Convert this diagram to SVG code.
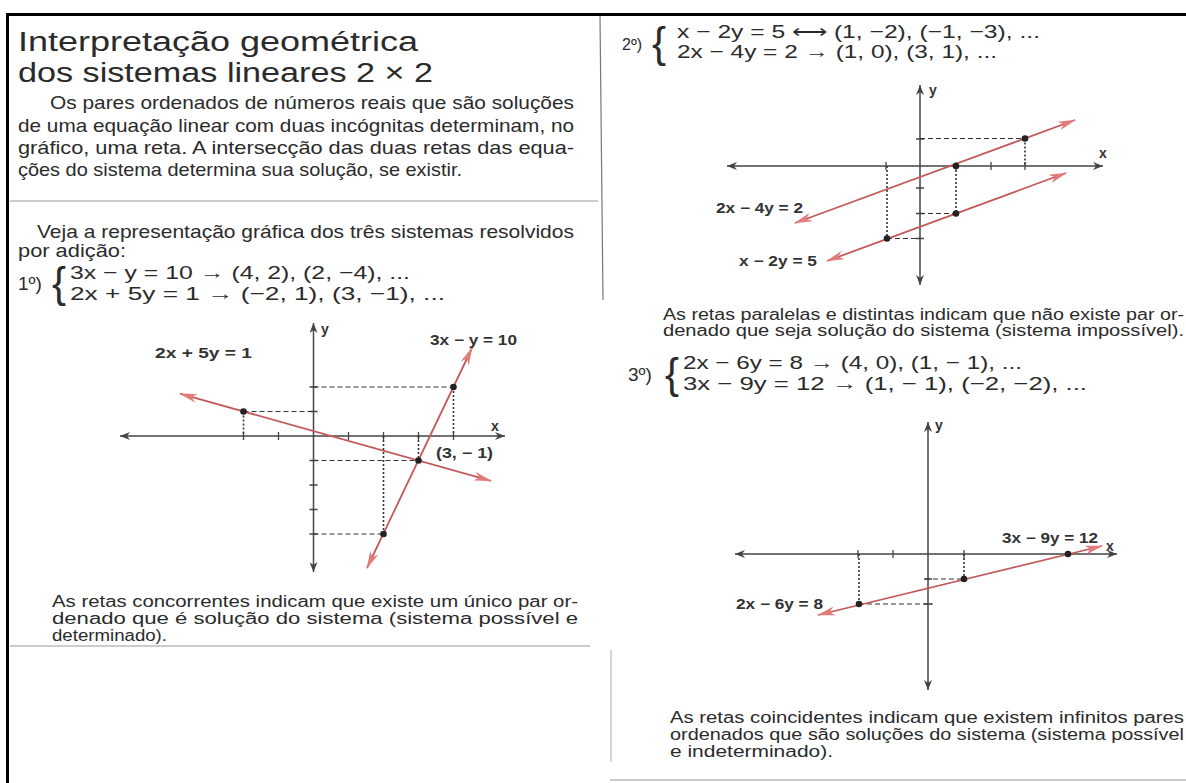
<svg xmlns="http://www.w3.org/2000/svg" width="1186" height="783" viewBox="0 0 1186 783">
<style>
.t{font-family:"Liberation Sans",Arial,sans-serif;fill:#2b2b2b}
.ti{font-size:27px}
.p{font-size:19px}
.q{font-size:16px}
.e{font-size:19px}
.br{font-family:"Liberation Sans",Arial,sans-serif;font-size:42px;fill:#2b2b2b}
.lbl{font-family:"Liberation Sans",Arial,sans-serif;font-weight:bold;font-size:14px;fill:#333}
.ax{stroke:#444;stroke-width:1.5;fill:none}
.tk{stroke:#444;stroke-width:1.3}
.rl{stroke:#c4595a;stroke-width:1.8;fill:none}
.dh{stroke:#333;stroke-width:1;stroke-dasharray:5 3}
.dv{stroke:#333;stroke-width:1.6;stroke-dasharray:2 2}
.pt{fill:#222}
.frame{stroke:#000;stroke-width:3}
.rule{stroke:#999;stroke-width:1.2}
</style>
<defs>
<marker id="ra" viewBox="0 0 18 10" refX="17" refY="5" markerWidth="18" markerHeight="10" markerUnits="userSpaceOnUse" orient="auto-start-reverse"><path d="M0,0.5 L18,5 L0,9.5 L5,5 z" fill="#e27c7b"/></marker>
<marker id="aa" viewBox="0 0 10 8" refX="10" refY="4" markerWidth="10" markerHeight="8" markerUnits="userSpaceOnUse" orient="auto-start-reverse"><path d="M0,0 L10,4 L0,8 L3,4 z" fill="#444"/></marker>
</defs>
<rect width="1186" height="783" fill="#fff"/>

<g id="frame">
<line class="frame" x1="6" y1="14.5" x2="1186" y2="14.5"/>
<line class="frame" x1="7.5" y1="13" x2="7.5" y2="783"/>
<line class="rule" x1="10" y1="201" x2="598" y2="201"/>
<line class="rule" x1="10" y1="646" x2="590" y2="646"/>
<line class="rule" x1="610" y1="780" x2="1186" y2="780"/>
<line stroke="#777" stroke-width="1.2" x1="600" y1="16" x2="603" y2="300"/>
<line stroke="#aaa" stroke-width="1" x1="611" y1="650" x2="611" y2="762"/>
</g>

<g id="intro">
<text class="t ti" x="18" y="51" textLength="400" lengthAdjust="spacingAndGlyphs">Interpretação geométrica</text>
<text class="t ti" x="18" y="82" textLength="415" lengthAdjust="spacingAndGlyphs">dos sistemas lineares 2 × 2</text>
<text class="t p" x="50" y="109" textLength="524" lengthAdjust="spacingAndGlyphs">Os pares ordenados de números reais que são soluções</text>
<text class="t p" x="18" y="132" textLength="556" lengthAdjust="spacingAndGlyphs">de uma equação linear com duas incógnitas determinam, no</text>
<text class="t p" x="18" y="154" textLength="556" lengthAdjust="spacingAndGlyphs">gráfico, uma reta. A intersecção das duas retas das equa-</text>
<text class="t p" x="18" y="176" textLength="444" lengthAdjust="spacingAndGlyphs">ções do sistema determina sua solução, se existir.</text>
<text class="t p" x="37" y="238" textLength="537" lengthAdjust="spacingAndGlyphs">Veja a representação gráfica dos três sistemas resolvidos</text>
<text class="t p" x="18" y="257" textLength="108" lengthAdjust="spacingAndGlyphs">por adição:</text>
</g>

<g id="system1">
<text class="t e" x="18" y="290">1º)</text>
<text class="br" x="52" y="297">{</text>
<text class="t e" x="70" y="279" textLength="340" lengthAdjust="spacingAndGlyphs">3x − y = 10 → (4, 2), (2, −4), ...</text>
<text class="t e" x="70" y="300" textLength="375" lengthAdjust="spacingAndGlyphs">2x + 5y = 1 → (−2, 1), (3, −1), ...</text>
</g>

<g id="graph1">
<line class="ax" x1="120" y1="436" x2="505" y2="436" marker-start="url(#aa)" marker-end="url(#aa)"/>
<line class="ax" x1="313.5" y1="323" x2="313.5" y2="572" marker-start="url(#aa)" marker-end="url(#aa)"/>
<path class="tk" d="M243.5,432v8M278.5,432v8M348.5,432v8M383.5,432v8M418.5,432v8M453.5,432v8M309.5,387h8M309.5,411.5h8M309.5,460.5h8M309.5,485h8M309.5,509.5h8M309.5,534h8"/>
<line class="dh" x1="313.5" y1="387" x2="453.5" y2="387"/>
<line class="dv" x1="453.5" y1="387" x2="453.5" y2="436"/>
<line class="dh" x1="243.5" y1="411.5" x2="313.5" y2="411.5"/>
<line class="dv" x1="243.5" y1="411.5" x2="243.5" y2="436"/>
<line class="dh" x1="313.5" y1="460.5" x2="418.5" y2="460.5"/>
<line class="dv" x1="418.5" y1="436" x2="418.5" y2="460.5"/>
<line class="dh" x1="313.5" y1="534" x2="383.5" y2="534"/>
<line class="dv" x1="383.5" y1="436" x2="383.5" y2="534"/>
<line class="rl" x1="367" y1="568" x2="472" y2="348" marker-start="url(#ra)" marker-end="url(#ra)"/>
<line class="rl" x1="180" y1="393.7" x2="491" y2="480.8" marker-start="url(#ra)" marker-end="url(#ra)"/>
<circle class="pt" cx="453.5" cy="387" r="3.3"/>
<circle class="pt" cx="243.5" cy="411.5" r="3.3"/>
<circle class="pt" cx="418.5" cy="460.5" r="3.3"/>
<circle class="pt" cx="383.5" cy="534" r="3.3"/>
<text class="lbl" x="321" y="334" font-size="15">y</text>
<text class="lbl" x="491" y="431" font-size="15">x</text>
<text class="lbl" x="430" y="345" textLength="87" lengthAdjust="spacingAndGlyphs">3x − y = 10</text>
<text class="lbl" x="155" y="358" textLength="97" lengthAdjust="spacingAndGlyphs">2x + 5y = 1</text>
<text class="lbl" x="436" y="458" textLength="57" lengthAdjust="spacingAndGlyphs">(3, − 1)</text>
</g>

<g id="caption1">
<text class="t q" x="52" y="607" textLength="526" lengthAdjust="spacingAndGlyphs">As retas concorrentes indicam que existe um único par or-</text>
<text class="t q" x="52" y="624" textLength="526" lengthAdjust="spacingAndGlyphs">denado que é solução do sistema (sistema possível e</text>
<text class="t q" x="52" y="641" textLength="115" lengthAdjust="spacingAndGlyphs">determinado).</text>
</g>

<g id="system2">
<text class="t q" x="622" y="50">2º)</text>
<text class="br" x="652" y="57">{</text>
<text class="t e" x="677" y="38" textLength="363" lengthAdjust="spacingAndGlyphs">x − 2y = 5 ⟷ (1, −2), (−1, −3), ...</text>
<text class="t e" x="677" y="58" textLength="320" lengthAdjust="spacingAndGlyphs">2x − 4y = 2 → (1, 0), (3, 1), ...</text>
</g>

<g id="graph2">
<line class="ax" x1="727" y1="166" x2="1103" y2="166" marker-start="url(#aa)" marker-end="url(#aa)"/>
<line class="ax" x1="920" y1="85" x2="920" y2="285" marker-start="url(#aa)" marker-end="url(#aa)"/>
<path class="tk" d="M886,162v8M956,162v8M991,162v8M1025,162v8M916,139h8M916,188h8M916,213.5h8M916,238.5h8"/>
<line class="dh" x1="920" y1="138.5" x2="1025" y2="138.5"/>
<line class="dv" x1="1025" y1="138.5" x2="1025" y2="166"/>
<line class="dv" x1="956" y1="166" x2="956" y2="213.5"/>
<line class="dh" x1="920" y1="213.5" x2="956" y2="213.5"/>
<line class="dv" x1="887" y1="166" x2="887" y2="238.5"/>
<line class="dh" x1="887" y1="238.5" x2="920" y2="238.5"/>
<line class="rl" x1="795" y1="223" x2="1075" y2="120" marker-start="url(#ra)" marker-end="url(#ra)"/>
<line class="rl" x1="827" y1="261" x2="1066" y2="173" marker-start="url(#ra)" marker-end="url(#ra)"/>
<circle class="pt" cx="1025" cy="138.5" r="3.3"/>
<circle class="pt" cx="956" cy="166" r="3.3"/>
<circle class="pt" cx="956" cy="213.5" r="3.3"/>
<circle class="pt" cx="887" cy="238.5" r="3.3"/>
<text class="lbl" x="929" y="95" font-size="15">y</text>
<text class="lbl" x="1099" y="158" font-size="15">x</text>
<text class="lbl" x="716" y="213" textLength="87" lengthAdjust="spacingAndGlyphs">2x − 4y = 2</text>
<text class="lbl" x="739" y="266" textLength="78" lengthAdjust="spacingAndGlyphs">x − 2y = 5</text>
</g>

<g id="caption2">
<text class="t q" x="663" y="320" textLength="521" lengthAdjust="spacingAndGlyphs">As retas paralelas e distintas indicam que não existe par or-</text>
<text class="t q" x="663" y="336" textLength="521" lengthAdjust="spacingAndGlyphs">denado que seja solução do sistema (sistema impossível).</text>
</g>

<g id="system3">
<text class="t e" x="628" y="381">3º)</text>
<text class="br" x="665" y="388">{</text>
<text class="t e" x="683" y="369" textLength="339" lengthAdjust="spacingAndGlyphs">2x − 6y = 8 → (4, 0), (1, − 1), ...</text>
<text class="t e" x="683" y="390" textLength="404" lengthAdjust="spacingAndGlyphs">3x − 9y = 12 → (1, − 1), (−2, −2), ...</text>
</g>

<g id="graph3">
<line class="ax" x1="735" y1="554" x2="1117" y2="554" marker-start="url(#aa)" marker-end="url(#aa)"/>
<line class="ax" x1="928" y1="422" x2="928" y2="690" marker-start="url(#aa)" marker-end="url(#aa)"/>
<path class="tk" d="M858,550v8M893,550v8M964,550v8M924,579h8M924,604h8"/>
<line class="dh" x1="925" y1="579" x2="964" y2="579"/>
<line class="dv" x1="964" y1="554" x2="964" y2="579"/>
<line class="dv" x1="859" y1="554" x2="859" y2="604"/>
<line class="dh" x1="859" y1="604" x2="933" y2="604"/>
<line class="rl" x1="818" y1="615" x2="1102" y2="546" marker-start="url(#ra)" marker-end="url(#ra)"/>
<circle class="pt" cx="1068" cy="554" r="3.3"/>
<circle class="pt" cx="964" cy="579" r="3.3"/>
<circle class="pt" cx="859" cy="604" r="3.3"/>
<text class="lbl" x="935" y="430" font-size="15">y</text>
<text class="lbl" x="1106" y="551" font-size="15">x</text>
<text class="lbl" x="1002" y="543" textLength="96" lengthAdjust="spacingAndGlyphs">3x − 9y = 12</text>
<text class="lbl" x="736" y="609" textLength="87" lengthAdjust="spacingAndGlyphs">2x − 6y = 8</text>
</g>

<g id="caption3">
<text class="t q" x="670" y="723" textLength="514" lengthAdjust="spacingAndGlyphs">As retas coincidentes indicam que existem infinitos pares</text>
<text class="t q" x="670" y="740" textLength="514" lengthAdjust="spacingAndGlyphs">ordenados que são soluções do sistema (sistema possível</text>
<text class="t q" x="670" y="757" textLength="163" lengthAdjust="spacingAndGlyphs">e indeterminado).</text>
</g>
</svg>
